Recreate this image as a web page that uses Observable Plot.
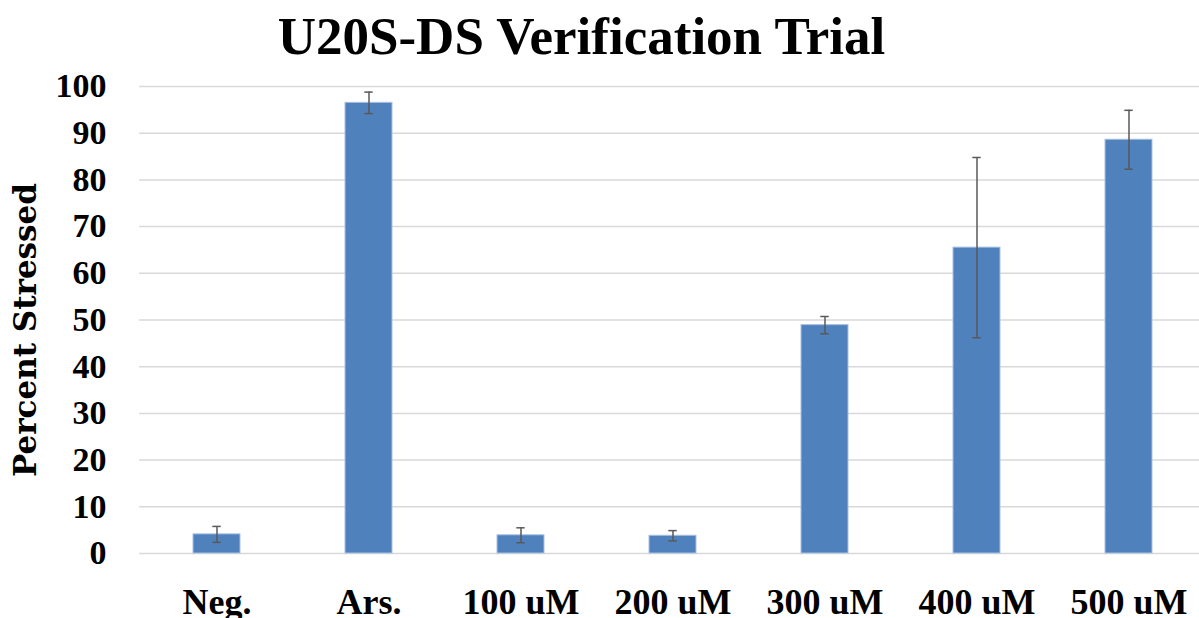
<!DOCTYPE html>
<html>
<head>
<meta charset="utf-8">
<script src="https://cdn.jsdelivr.net/npm/d3@7"></script>
<script src="https://cdn.jsdelivr.net/npm/@observablehq/plot@0.6"></script>
<style>
  body { margin: 0; background: #fff; }
  #title { height: 70px; line-height: 73px; text-align: center; padding-right: 36px;
           font-family: "Liberation Serif", serif; font-weight: bold; font-size: 53px; color: #000; white-space: nowrap; }
  #chart svg { display: block; }
</style>
</head>
<body>
<div id="title">U20S-DS Verification Trial</div>
<div id="chart"></div>
<script>
const categories = ["Neg.", "Ars.", "100 uM", "200 uM", "300 uM", "400 uM", "500 uM"];
const values = [4.1, 96.5, 3.9, 3.8, 48.9, 65.5, 88.6];
const errors = [1.7, 2.3, 1.6, 1.1, 1.85, 19.3, 6.3];
const yTicks = [0, 10, 20, 30, 40, 50, 60, 70, 80, 90, 100];
const yLabel = "Percent Stressed";

const data = categories.map((c, i) => ({ c, v: values[i], lo: values[i] - errors[i], hi: values[i] + errors[i] }));

const chart = Plot.plot({
  width: 1199,
  height: 548,
  marginLeft: 139,
  marginRight: 0,
  marginTop: 16,
  marginBottom: 65,
  style: { fontFamily: "Liberation Serif", fontWeight: "bold", color: "#000", background: "#fff", overflow: "visible" },
  x: { domain: categories, range: [139, 1206.5], paddingInner: 0.689, paddingOuter: 0.3445, label: null },
  y: { domain: [0, 100], label: null },
  marks: [
    Plot.ruleY(yTicks, { stroke: "#d9d9d9", strokeWidth: 1.5 }),
    Plot.barY(data, { x: "c", y: "v", fill: "#4f81bd", stroke: "#a9c1df", strokeWidth: 1 }),
    Plot.ruleX(data, { x: "c", y1: "lo", y2: "hi", stroke: "#595959", strokeWidth: 1.5 }),
    Plot.tickY(data, { x: "c", y: "hi", stroke: "#595959", strokeWidth: 1.5, insetLeft: 19.3, insetRight: 19.3 }),
    Plot.tickY(data, { x: "c", y: "lo", stroke: "#595959", strokeWidth: 1.5, insetLeft: 19.3, insetRight: 19.3 }),
    Plot.axisY({ ticks: yTicks, tickSize: 0, tickPadding: 33, fontSize: 34, label: null }),
    Plot.axisX({ tickSize: 0, tickPadding: 35, fontSize: 36, label: null }),
    Plot.text([yLabel], { text: d => d, frameAnchor: "left", textAnchor: "middle", lineAnchor: "middle", rotate: -90, dx: -113, dy: 10, fontSize: 31, fontFamily: "DejaVu Serif", fontWeight: "bold" })
  ]
});
document.getElementById("chart").appendChild(chart);
</script>
</body>
</html>
